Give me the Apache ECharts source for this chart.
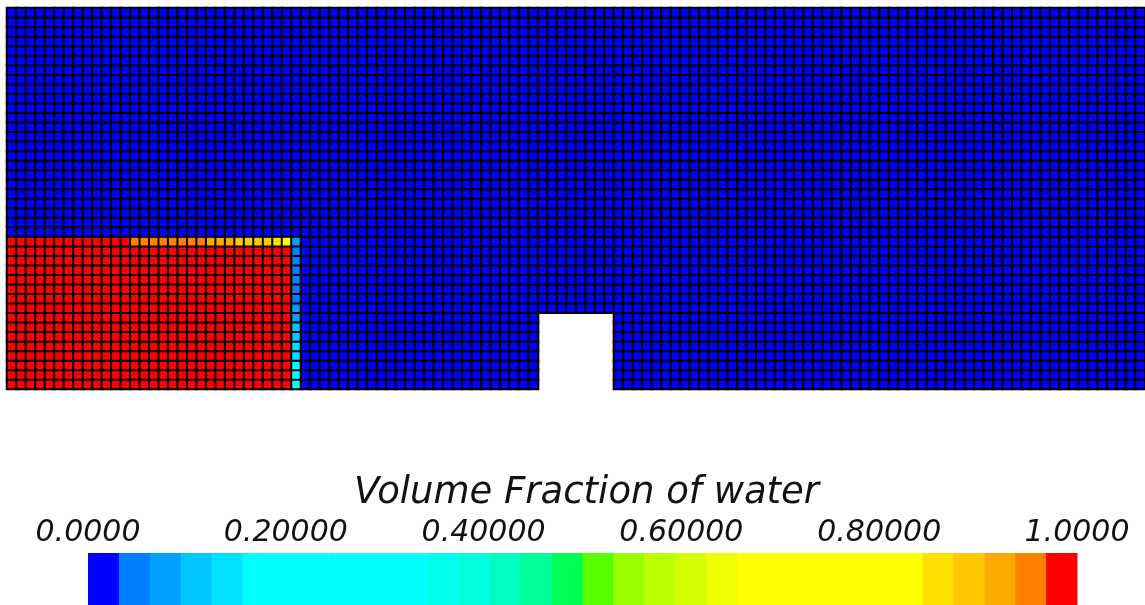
<!DOCTYPE html>
<html>
<head>
<meta charset="utf-8">
<script src="https://cdn.jsdelivr.net/npm/echarts@6/dist/echarts.min.js"></script>
<style>html,body{margin:0;padding:0;background:#fff}#c{width:1145px;height:605px}</style>
</head>
<body>
<div id="c"></div>
<script>
// ---- data ----
var nCols = 120;            // mesh columns
var nRows = 40;             // mesh rows
var waterCols = 30;         // columns fully filled with water (from left)
var waterRows = 16;         // rows of the water column (from bottom)
// volume fraction in the top water row (row 15), columns 0..29
var topRowFraction = [1,1,1,1,1,1,1,1,1,1,1,1,1,
  0.95,0.95,0.95,0.95,0.95,0.95,0.95,0.95,
  0.92,0.92,0.92,
  0.89,0.89,0.89,0.89,
  0.86,0.82];
// volume fraction in column 30, rows 0..15 (bottom to top)
var frontColumnFraction = [0.20,0.18,0.16,0.14,0.13,0.11,0.10,0.085,0.07,0.05,0.05,0.05,0.05,0.05,0.05,0.08];
var frontColumn = 30;
// obstacle (no cells): columns 56..63, rows 0..7
var obstacleCols = [56, 63];
var obstacleRows = [0, 7];
// discrete colour map bands (32 bands from 0 to 1)
var bandColors = ['#0000FF','#0080FF','#00A0FF','#00C8FF','#00E0FF',
  '#00FFFF','#00FFFF','#00FFFF','#00FFFF','#00FFFF','#00FFFF',
  '#00FFEE','#00FFDD','#00FFC0','#00FF99','#00FF55',
  '#55FF00','#99FF00','#BBFF00','#D4FF00','#EEFF00',
  '#FFFF00','#FFFF00','#FFFF00','#FFFF00','#FFFF00','#FFFF00',
  '#FFE000','#FFC800','#FFAA00','#FF8000','#FF0000'];
var tickLabels = ['0.0000','0.20000','0.40000','0.60000','0.80000','1.0000'];
var titleText = 'Volume Fraction of water';

// ---- build ----
var cells = [];
for (var c = 0; c < nCols; c++) {
  for (var r = 0; r < nRows; r++) {
    if (c >= obstacleCols[0] && c <= obstacleCols[1] && r >= obstacleRows[0] && r <= obstacleRows[1]) continue;
    var v = 0;
    if (c < waterCols && r < waterRows) v = (r === waterRows - 1) ? topRowFraction[c] : 1;
    else if (c === frontColumn && r < waterRows) v = frontColumnFraction[r];
    cells.push([c, r, v]);
  }
}
var nb = bandColors.length;
var pieces = bandColors.map(function (col, i) {
  return i === nb - 1 ? {gte: i / nb, lte: 1.0001, color: col} : {gte: i / nb, lt: (i + 1) / nb, color: col};
});
var bands = bandColors.map(function (col, i) { return [i / nb, (i + 1) / nb, i]; });
var xc = [], yc = [];
for (var i = 0; i < nCols; i++) xc.push(i);
for (var j = 0; j < nRows; j++) yc.push(j);

var chart = echarts.init(document.getElementById('c'), null, {renderer: 'canvas'});
chart.setOption({
  animation: false,
  backgroundColor: '#ffffff',
  title: {
    text: titleText, left: 349, top: 470,
    textStyle: {fontFamily: 'DejaVu Sans', fontStyle: 'italic', fontWeight: 'normal', fontSize: 37, color: '#111'}
  },
  grid: [
    {left: 7, top: 8, width: 1138, height: 381},
    {left: 88, top: 553, width: 989, height: 52}
  ],
  xAxis: [
    {type: 'category', data: xc, gridIndex: 0, show: false},
    {type: 'value', gridIndex: 1, min: 0, max: 1, interval: 0.2, position: 'top',
     axisLine: {show: false}, axisTick: {show: false}, splitLine: {show: false},
     axisLabel: {margin: 5, fontFamily: 'DejaVu Sans', fontStyle: 'italic', fontSize: 30, color: '#111',
       formatter: function (v) { return tickLabels[Math.round(v * 5)]; }}}
  ],
  yAxis: [
    {type: 'category', data: yc, gridIndex: 0, show: false},
    {type: 'value', gridIndex: 1, min: 0, max: 1, show: false}
  ],
  visualMap: {type: 'piecewise', show: false, seriesIndex: 0, dimension: 2, pieces: pieces},
  series: [
    {type: 'heatmap', xAxisIndex: 0, yAxisIndex: 0, data: cells, progressive: 0,
     itemStyle: {borderColor: '#000', borderWidth: 2}},
    {type: 'custom', xAxisIndex: 1, yAxisIndex: 1, data: bands, silent: true,
     renderItem: function (params, api) {
       var p0 = api.coord([api.value(0), 1]);
       var p1 = api.coord([api.value(1), 0]);
       return {type: 'rect', shape: {x: p0[0], y: p0[1], width: p1[0] - p0[0] + 0.5, height: p1[1] - p0[1]},
               style: {fill: bandColors[api.value(2)]}};
     }}
  ]
});
</script>
</body>
</html>
